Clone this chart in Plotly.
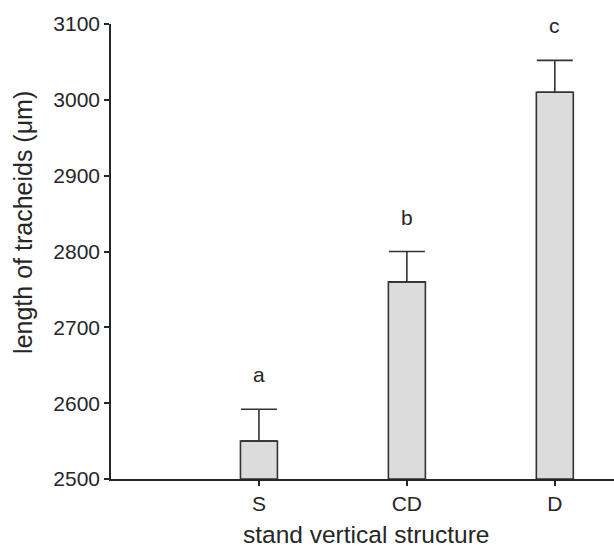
import plotly.graph_objects as go

categories = ["S", "CD", "D"]
means = [2550, 2760, 3010]
errors = [42, 40, 42]
letters = ["a", "b", "c"]
y_ticks = [2500, 2600, 2700, 2800, 2900, 3000, 3100]

FONT = "Liberation Sans, Arial, sans-serif"
DARK = "#262626"

fig = go.Figure()
fig.add_trace(go.Bar(
    x=categories, y=[m - 2500 for m in means], base=2500,
    width=0.25,
    marker=dict(color="#dcdcdc", line=dict(color="#333333", width=1.6)),
    error_y=dict(type="data", symmetric=False, array=errors,
                 arrayminus=[0] * len(errors),
                 color="#333333", thickness=1.6, width=18),
    showlegend=False, hoverinfo="skip",
))

for c, m, e, l in zip(categories, means, errors, letters):
    fig.add_annotation(x=c, y=m + e, text=l, showarrow=False,
                       yanchor="bottom", yshift=21,
                       font=dict(family=FONT, size=21, color=DARK))

fig.add_annotation(xref="paper", yref="paper", x=0.507, y=-0.121,
                   text="stand vertical structure", showarrow=False,
                   xanchor="center", yanchor="middle", borderpad=0,
                   font=dict(family=FONT, size=24.5, color=DARK))
fig.add_annotation(xref="paper", yref="paper", x=-0.175, y=0.565,
                   text="length of tracheids (μm)", showarrow=False,
                   textangle=-90, xanchor="center", yanchor="middle",
                   font=dict(family=FONT, size=25, color=DARK))

fig.update_layout(
    width=614, height=550,
    margin=dict(l=111, r=0, t=24, b=71),
    plot_bgcolor="white", paper_bgcolor="white",
    font=dict(family=FONT, color=DARK),
    xaxis=dict(type="category", range=[-1, 2.4], showgrid=False, zeroline=False,
               showline=True, linecolor=DARK, linewidth=1.5,
               ticks="outside", ticklen=5, tickwidth=1.5, tickcolor=DARK,
               tickfont=dict(family=FONT, size=21, color=DARK)),
    yaxis=dict(range=[2500, 3100], tickvals=y_ticks, showgrid=False, zeroline=False,
               showline=True, linecolor=DARK, linewidth=1.5,
               ticks="outside", ticklen=5, tickwidth=1.5, tickcolor=DARK,
               tickfont=dict(family=FONT, size=21, color=DARK)),
)

fig.write_html("out.html")
